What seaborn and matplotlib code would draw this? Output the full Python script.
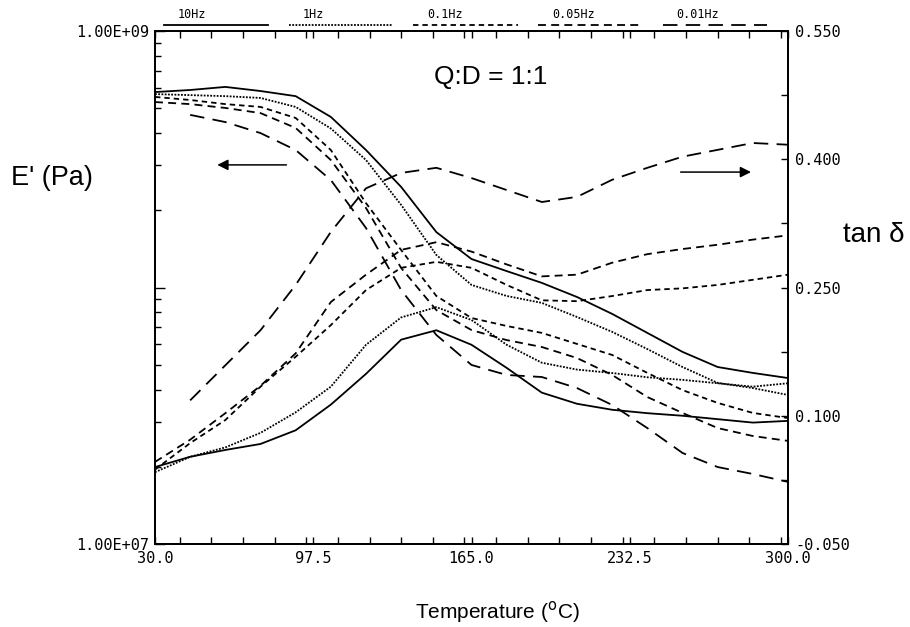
import numpy as np
import pandas as pd
import seaborn as sns
import matplotlib.pyplot as plt
from matplotlib.lines import Line2D
from matplotlib.ticker import FixedLocator, LogLocator, MultipleLocator, NullFormatter, FixedFormatter

# temperatures (deg C) and frequencies
temps = [30, 45, 60, 75, 90, 105, 120, 135, 150, 165, 180, 195, 210, 225, 240, 255, 270, 285, 300]
freqs = ['10Hz', '1Hz', '0.1Hz', '0.05Hz', '0.01Hz']

# log10 of E' (Pa)
logE_10hz = [8.762, 8.770, 8.782, 8.766, 8.746, 8.665, 8.536, 8.392, 8.216, 8.111, 8.064, 8.018, 7.963, 7.897, 7.823, 7.749, 7.690, 7.667, 7.647]
logE_1hz = [8.754, 8.750, 8.746, 8.739, 8.704, 8.620, 8.497, 8.322, 8.127, 8.010, 7.967, 7.940, 7.885, 7.827, 7.760, 7.690, 7.628, 7.608, 7.581]
logE_01hz = [8.743, 8.731, 8.715, 8.704, 8.661, 8.536, 8.329, 8.146, 7.967, 7.881, 7.850, 7.823, 7.780, 7.737, 7.667, 7.600, 7.550, 7.511, 7.491]
logE_005hz = [8.723, 8.715, 8.700, 8.680, 8.622, 8.497, 8.310, 8.076, 7.912, 7.834, 7.795, 7.768, 7.725, 7.659, 7.573, 7.511, 7.452, 7.421, 7.402]
logE_001hz = [np.nan, 8.673, 8.645, 8.602, 8.536, 8.419, 8.232, 7.990, 7.815, 7.698, 7.659, 7.651, 7.608, 7.542, 7.452, 7.355, 7.300, 7.273, 7.242]

# tan delta
tan_10hz = [0.040, 0.052, 0.060, 0.067, 0.083, 0.113, 0.149, 0.189, 0.200, 0.183, 0.156, 0.127, 0.114, 0.107, 0.103, 0.100, 0.096, 0.092, 0.094]
tan_1hz = [0.034, 0.052, 0.063, 0.080, 0.104, 0.134, 0.183, 0.215, 0.227, 0.212, 0.183, 0.162, 0.154, 0.150, 0.145, 0.142, 0.138, 0.134, 0.138]
tan_01hz = [0.037, 0.068, 0.095, 0.134, 0.169, 0.206, 0.247, 0.273, 0.280, 0.273, 0.253, 0.235, 0.234, 0.240, 0.247, 0.249, 0.253, 0.259, 0.265]
tan_005hz = [0.046, 0.072, 0.103, 0.135, 0.173, 0.233, 0.265, 0.294, 0.303, 0.292, 0.277, 0.263, 0.265, 0.279, 0.289, 0.295, 0.300, 0.306, 0.311]
tan_001hz = [np.nan, 0.118, 0.159, 0.200, 0.253, 0.315, 0.366, 0.384, 0.390, 0.378, 0.364, 0.350, 0.356, 0.376, 0.390, 0.403, 0.411, 0.419, 0.417]

x_ticks = [30.0, 97.5, 165.0, 232.5, 300.0]
tan_ticks = [-0.050, 0.100, 0.250, 0.400, 0.550]

logE_all = [logE_10hz, logE_1hz, logE_01hz, logE_005hz, logE_001hz]
tan_all = [tan_10hz, tan_1hz, tan_01hz, tan_005hz, tan_001hz]

rows = []
for f, le, td in zip(freqs, logE_all, tan_all):
    for t, a, b in zip(temps, le, td):
        rows.append({'T': t, 'freq': f, 'E': 10 ** a, 'tan': b})
df = pd.DataFrame(rows)

dash_map = {'10Hz': '', '1Hz': (1.0, 0.8), '0.1Hz': (3.0, 2.2),
            '0.05Hz': (4.4, 2.9), '0.01Hz': (8.0, 4.6)}

mono = 'DejaVu Sans Mono'
sans = 'Liberation Sans'
LW = 1.3

fig, ax = plt.subplots(figsize=(9.1, 6.27), dpi=100)
fig.subplots_adjust(left=155 / 910, right=788 / 910, bottom=1 - 544 / 627, top=1 - 31 / 627)
ax2 = ax.twinx()

sns.lineplot(data=df, x='T', y='E', style='freq', style_order=freqs, dashes=dash_map,
             color='black', lw=LW, ax=ax, legend=False, estimator=None)
sns.lineplot(data=df, x='T', y='tan', style='freq', style_order=freqs, dashes=dash_map,
             color='black', lw=LW, ax=ax2, legend=False, estimator=None)

# left axis: log modulus
ax.set_yscale('log')
ax.set_ylim(1e7, 1e9)
ax.yaxis.set_major_locator(FixedLocator([1e7, 1e8, 1e9]))
ax.yaxis.set_major_formatter(FixedFormatter(['1.00E+07', '', '1.00E+09']))
ax.yaxis.set_minor_locator(LogLocator(base=10, subs=np.arange(2, 10)))
ax.yaxis.set_minor_formatter(NullFormatter())

# x axis
ax.set_xlim(30, 300)
ax.xaxis.set_major_locator(FixedLocator(x_ticks))
ax.xaxis.set_major_formatter(FixedFormatter([f'{v:.1f}' for v in x_ticks]))
ax.xaxis.set_minor_locator(MultipleLocator(13.5))

# right axis: tan delta
ax2.set_ylim(-0.05, 0.55)
ax2.yaxis.set_major_locator(FixedLocator(tan_ticks))
ax2.yaxis.set_major_formatter(FixedFormatter([f'{v:.3f}' for v in tan_ticks]))
ax2.yaxis.set_minor_locator(FixedLocator([0.025, 0.175, 0.325, 0.475]))

for a in (ax, ax2):
    a.set_xlabel('')
    a.set_ylabel('')
    for s in a.spines.values():
        s.set_linewidth(1.3)
ax.tick_params(axis='both', which='both', direction='in', width=1.0, labelsize=11)
ax.tick_params(axis='x', which='both', top=True, length=5, pad=5)
ax.tick_params(axis='y', which='major', length=7, pad=4)
ax.tick_params(axis='y', which='minor', length=4)
ax2.tick_params(axis='y', which='both', direction='in', length=5, width=1.0, labelsize=11, pad=5)
for lab in ax.get_xticklabels() + ax.get_yticklabels() + ax2.get_yticklabels():
    lab.set_family(mono)

# frequency key above the frame
for i, f in enumerate(freqs):
    x0 = 0.014 + i * 0.197
    ln = Line2D([x0, x0 + 0.165], [1.012, 1.012], transform=ax.transAxes, color='black',
                lw=LW, clip_on=False)
    if dash_map[f]:
        ln.set_dashes(dash_map[f])
    ax.add_line(ln)
    ax.text(x0 + 0.022, 1.02, f, transform=ax.transAxes, fontsize=8.5, family=mono,
            ha='left', va='bottom')

ax.text(0.53, 0.91, 'Q:D = 1:1', transform=ax.transAxes, fontsize=19, family=sans,
        ha='center', va='center')
ax.annotate('', xy=(0.094, 0.739), xytext=(0.212, 0.739), xycoords='axes fraction',
            arrowprops=dict(arrowstyle='-|>', color='black', lw=1.1, mutation_scale=16))
ax.annotate('', xy=(0.946, 0.725), xytext=(0.826, 0.725), xycoords='axes fraction',
            arrowprops=dict(arrowstyle='-|>', color='black', lw=1.1, mutation_scale=16))

fig.text(52 / 910, 1 - 178 / 627, "E' (Pa)", fontsize=19.5, family=sans, ha='center', va='center')
fig.text(874 / 910, 1 - 235 / 627, 'tan δ', fontsize=20, family=sans, ha='center', va='center')
fig.text(497 / 910, 1 - 612 / 627, 'Temperature ($^{\\mathrm{o}}$C)', fontsize=15, family=sans,
         ha='center', va='center')

fig.savefig('out.png', dpi=100)
